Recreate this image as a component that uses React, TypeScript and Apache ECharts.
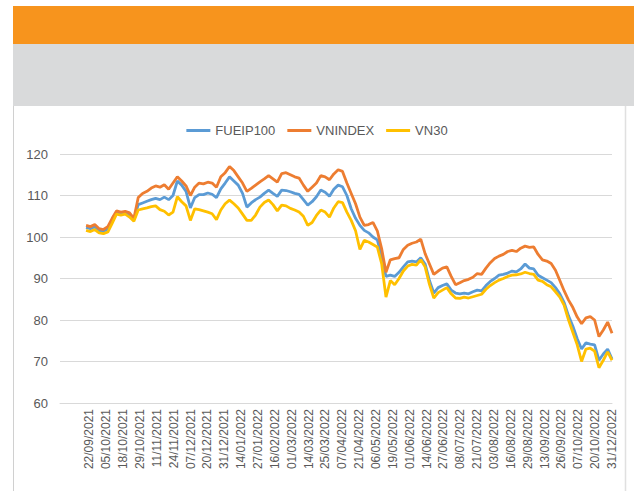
import React, { useEffect, useRef } from "react";
import * as echarts from "echarts";

const tickLabels = [
  "22/09/2021", "05/10/2021", "18/10/2021", "29/10/2021", "11/11/2021", "24/11/2021",
  "07/12/2021", "20/12/2021", "31/12/2021", "14/01/2022", "27/01/2022", "16/02/2022",
  "01/03/2022", "14/03/2022", "25/03/2022", "07/04/2022", "21/04/2022", "06/05/2022",
  "19/05/2022", "01/06/2022", "14/06/2022", "27/06/2022", "08/07/2022", "21/07/2022",
  "03/08/2022", "16/08/2022", "29/08/2022", "13/09/2022", "26/09/2022", "07/10/2022",
  "20/10/2022", "31/12/2022",
];

const seriesNames = ["FUEIP100", "VNINDEX", "VN30"];

const fueip100 = [
  102.3, 102, 102.5, 101.5, 101.3, 102, 104, 105.8, 105.6, 105.8, 105.3, 104.2,
  107.8, 108.2, 108.6, 109, 109.3, 109, 109.6, 109, 110, 113.5, 112.5, 111,
  107, 109.5, 110.2, 110.2, 110.6, 110.3, 109.5, 111.6, 113, 114.5, 113.5, 112.5,
  110.5, 107.2, 108.2, 109, 109.6, 110.5, 111.3, 110.5, 109.8, 111.3, 111.2, 110.9,
  110.5, 110.3, 109, 107.7, 108.5, 109.7, 111.3, 110.8, 109.8, 111.5, 112.5, 112.1,
  110, 106.8, 104.5, 102.8, 101.6, 101, 100, 99.3, 95.5, 90.5, 90.8, 90.5,
  91.5, 92.8, 94, 94.2, 94, 95, 93.5, 89.5, 86.5, 87.8, 88.3, 88.7,
  87.2, 86.5, 86.3, 86.5, 86.3, 86.8, 87.2, 87, 88.3, 89.3, 90, 90.8,
  91, 91.3, 91.8, 91.6, 92.3, 93.5, 92.5, 92.3, 90.8, 90.2, 89.6, 89,
  87.8, 86.3, 84.2, 81, 78.5, 75.5, 73, 74.5, 74.2, 74, 70.3, 71.8,
  73, 70.6,
];

const vnindex = [
  102.8, 102.5, 103, 102, 101.8, 102.5, 104.5, 106.3, 106, 106.2, 105.8, 104.5,
  109.5, 110.5, 111, 111.8, 112.3, 112, 112.6, 111.5, 113, 114.5, 113.5, 112.3,
  110, 112, 113, 112.8, 113.2, 113, 112, 114.5, 115.5, 117, 116, 114.5,
  113, 111, 111.7, 112.5, 113.3, 114, 114.8, 114, 113.2, 115.3, 115.5, 115,
  114.5, 114.2, 112.5, 111, 112, 113, 114.8, 114.5, 113.8, 115.2, 116.2, 115.8,
  113, 110.5, 108, 104.8, 102.8, 103, 103.5, 101.5, 97.2, 91.5, 94.5, 94.8,
  95, 97, 98, 98.5, 98.8, 99.5, 96, 93.5, 91, 91.8, 92.5, 92.8,
  90.5, 88.5, 89, 89.5, 89.8, 90.3, 91.2, 91, 92.5, 93.8, 94.8, 95.4,
  95.8, 96.5, 96.8, 96.5, 97.3, 97.8, 97.5, 97.6, 95.8, 94.5, 94.2, 93.6,
  92, 89.5, 87, 84.8, 83, 80.7, 79.1, 80.5, 80.8, 80, 76, 77.6,
  79.5, 76.8,
];

const vn30 = [
  101.6, 101.3, 101.8, 101, 100.8, 101.2, 103.3, 105.5, 105.3, 105.5, 104.8, 103.8,
  106.5, 106.8, 107, 107.3, 107.5, 106.6, 106.2, 105.3, 106, 109.7, 108.5, 107.5,
  104, 106.8, 106.6, 106.3, 106, 105.6, 104.2, 106.5, 108, 108.9, 108, 107,
  105.5, 104, 104, 105.3, 107.2, 108.3, 108.9, 107.8, 106.3, 107.7, 107.5, 106.9,
  106.5, 106, 105, 102.8, 103.5, 105.2, 106.5, 106, 104.8, 107, 108.5, 108.3,
  106, 104, 101.5, 97, 99.2, 98.8, 98.2, 97.6, 93.6, 85.5, 89.5, 88.5,
  90, 91.8, 93, 93.4, 93.2, 94.5, 92.8, 88.6, 85.3, 86.6, 87.2, 87.8,
  86.3, 85.3, 85.2, 85.5, 85.3, 85.6, 85.9, 86.2, 87.4, 88.3, 89, 89.6,
  90, 90.5, 90.8, 90.9, 91.1, 91.5, 91.2, 91, 89.6, 89.3, 88.5, 88,
  86.8, 85.5, 83.5, 80, 77, 74, 70, 73, 73.2, 72.5, 68.5, 70.3,
  72.3, 70.3,
];

const colors = ["#5B9BD5", "#ED7D31", "#FFC000"];
const FONT = "'Liberation Sans', Arial, sans-serif";
const LABEL_STEP = 4; // label-axis slots between labelled dates
const LABEL_OFFSET = 7; // empty slots before the first labelled date
const LABEL_SLOTS = LABEL_OFFSET + LABEL_STEP * (tickLabels.length - 1) + 1;

const toPairs = (arr: number[]) => arr.map((v, k) => [k, v]);

export default function App() {
  const ref = useRef<HTMLDivElement>(null);
  useEffect(() => {
    if (!ref.current) return;
    const chart = echarts.init(ref.current, null, { renderer: "svg" });
    const slotNames = Array.from({ length: LABEL_SLOTS }, (_, j) => {
      const r = j - LABEL_OFFSET;
      if (r >= 0 && r % LABEL_STEP === 0) return tickLabels[r / LABEL_STEP];
      return "_" + j;
    });
    chart.setOption({
      animation: false,
      backgroundColor: "#ffffff",
      color: colors,
      graphic: [
        { type: "rect", z: -10, shape: { x: 13, y: 6, width: 621, height: 38 }, style: { fill: "#F7941D" } },
        { type: "rect", z: -10, shape: { x: 13, y: 44, width: 621, height: 62 }, style: { fill: "#D9DADB" } },
        { type: "line", z: -10, shape: { x1: 13.5, y1: 106, x2: 13.5, y2: 491 }, style: { stroke: "#D0D0D0", lineWidth: 1 } },
        { type: "line", z: -10, shape: { x1: 625.5, y1: 106, x2: 625.5, y2: 491 }, style: { stroke: "#E0E0E0", lineWidth: 1.5 } },
      ],
      legend: {
        top: 119,
        left: "center",
        icon: "rect",
        itemWidth: 24,
        itemHeight: 3,
        itemGap: 12,
        textStyle: { color: "#595959", fontSize: 13, fontFamily: FONT },
        data: seriesNames,
      },
      grid: { left: 60, right: 22, top: 154, bottom: 88, containLabel: false },
      xAxis: [
        {
          type: "value",
          min: -6,
          max: fueip100.length - 1,
          axisLine: { show: true, lineStyle: { color: "#D9D9D9", width: 1 } },
          axisTick: { show: false },
          splitLine: { show: false },
          axisLabel: { show: false },
        },
        {
          type: "category",
          position: "bottom",
          boundaryGap: false,
          data: slotNames,
          axisLine: { show: false },
          axisTick: { show: false },
          splitLine: { show: false },
          axisLabel: {
            interval: (idx: number) => idx >= LABEL_OFFSET && (idx - LABEL_OFFSET) % LABEL_STEP === 0,
            hideOverlap: false,
            rotate: 90,
            margin: 6,
            color: "#595959",
            fontSize: 12,
            fontFamily: FONT,
          },
        },
      ],
      yAxis: {
        type: "value",
        min: 60,
        max: 120,
        interval: 10,
        axisLine: { show: false },
        axisTick: { show: false },
        splitLine: { lineStyle: { color: "#D9D9D9", width: 1 } },
        axisLabel: { color: "#595959", fontSize: 13, fontFamily: FONT, margin: 12 },
      },
      series: [
        { name: seriesNames[0], type: "line", xAxisIndex: 0, data: toPairs(fueip100), showSymbol: false, lineStyle: { width: 2.8, color: colors[0] } },
        { name: seriesNames[1], type: "line", xAxisIndex: 0, data: toPairs(vnindex), showSymbol: false, lineStyle: { width: 2.8, color: colors[1] } },
        { name: seriesNames[2], type: "line", xAxisIndex: 0, data: toPairs(vn30), showSymbol: false, lineStyle: { width: 2.8, color: colors[2] } },
      ],
    });
    return () => chart.dispose();
  }, []);
  return (
    <div
      ref={ref}
      style={{ position: "fixed", left: 0, top: 0, width: 634, height: 491 }}
    />
  );
}
